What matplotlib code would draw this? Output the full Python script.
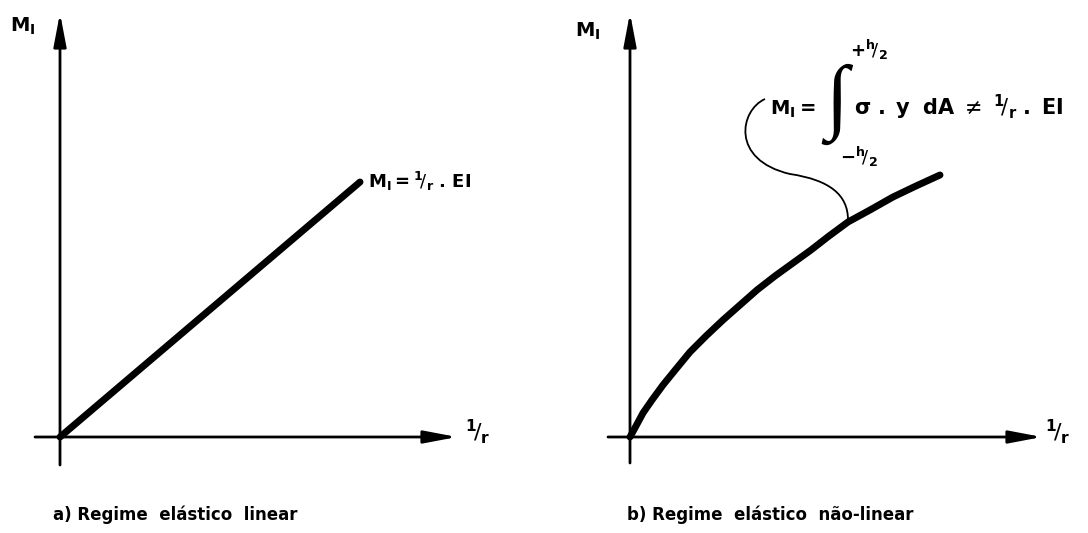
import matplotlib
matplotlib.use("Agg")
import matplotlib.pyplot as plt
from matplotlib.path import Path
from matplotlib.patches import PathPatch

plt.rcParams["mathtext.fontset"] = "dejavusans"
plt.rcParams["font.family"] = ["DejaVu Sans"]

# units: curvature 1/r (x) and moment M_I (y)
# a) linear elastic
lin_curv = [0.0, 3.00]
lin_moment = [0.0, 2.55]

# b) non-linear elastic
nl_curv = [0.00, 0.06, 0.13, 0.22, 0.33, 0.46, 0.60, 0.76, 0.93, 1.10,
           1.27, 1.45, 1.63, 1.81, 1.99, 2.18, 2.40, 2.63, 2.86, 3.10]
nl_moment = [0.00, 0.11, 0.24, 0.37, 0.52, 0.68, 0.85, 1.01, 1.17, 1.32,
             1.47, 1.61, 1.74, 1.87, 2.01, 2.15, 2.27, 2.40, 2.51, 2.62]

# leader line from the formula down to the curve (bezier control points)
leader_x = [1.35, 1.10, 1.00, 1.60, 2.00, 2.18, 2.18]
leader_y = [3.38, 3.27, 2.77, 2.63, 2.57, 2.42, 2.17]

# axis extents (tail, tip)
a_xaxis = (-0.25, 3.97)
a_yaxis = (-0.28, 4.24)
b_xaxis = (-0.22, 4.12)
b_yaxis = (-0.26, 4.24)

captions = ["a) Regime  elástico  linear", "b) Regime  elástico  não-linear"]

fig = plt.figure(figsize=(10.88, 5.33), dpi=100)
ax_a = fig.add_axes([0, 0, 1, 1])
ax_b = fig.add_axes([0, 0, 1, 1])
ax_a.set_xlim(-0.60, 10.28)
ax_b.set_xlim(-6.30, 4.58)
for ax in (ax_a, ax_b):
    ax.set_ylim(-0.96, 4.37)
    ax.axis("off")
    ax.patch.set_alpha(0)

arrow = dict(arrowstyle="-|>,head_length=2.0,head_width=0.38", lw=2.0,
             color="black", shrinkA=0, shrinkB=0, mutation_scale=10)


def draw_axes(ax, xext, yext):
    ax.annotate("", xy=(xext[1], 0), xytext=(xext[0], 0), arrowprops=arrow)
    ax.annotate("", xy=(0, yext[1]), xytext=(0, yext[0]), arrowprops=arrow)


draw_axes(ax_a, a_xaxis, a_yaxis)
draw_axes(ax_b, b_xaxis, b_yaxis)

mi = r"$\mathbf{M}_{\mathbf{I}}$"
frac = r"${}^{\mathbf{1}}\!/_{\mathbf{r}}$"

# panel a
ax_a.plot(lin_curv, lin_moment, color="black", lw=5, solid_capstyle="round")
ax_a.text(-0.50, 4.05, mi, fontsize=14, va="baseline", ha="left")
ax_a.text(4.05, 0.05, frac, fontsize=16, va="center", ha="left")
ax_a.text(3.08, 2.49,
          r"$\mathbf{M}_{\mathbf{I}}\mathbf{=}{}^{\mathbf{1}}\!/_{\mathbf{r}}\ \mathbf{.\,EI}$",
          fontsize=13, va="baseline", ha="left")
ax_a.text(-0.07, -0.78, captions[0], fontsize=12, fontweight="bold",
          va="center", ha="left")

# panel b
ax_b.plot(nl_curv, nl_moment, color="black", lw=5, solid_capstyle="round",
          solid_joinstyle="round")
codes = [Path.MOVETO] + [Path.CURVE4] * 6
leader = Path(list(zip(leader_x, leader_y)), codes)
ax_b.add_patch(PathPatch(leader, facecolor="none", edgecolor="black", lw=1.3))
ax_b.text(-0.55, 4.00, mi, fontsize=14, va="baseline", ha="left")
ax_b.text(4.15, 0.05, frac, fontsize=16, va="center", ha="left")
ax_b.text(1.40, 3.22, r"$\mathbf{M}_{\mathbf{I}}\mathbf{=}$",
          fontsize=14, va="baseline", ha="left")
ax_b.text(2.07, 3.33, "\u222b", fontsize=60, va="center", ha="center",
          family=["Liberation Serif", "DejaVu Sans"])
ax_b.text(2.20, 3.87, r"$\mathbf{+}{}^{\mathbf{h}}\!/_{\mathbf{2}}$",
          fontsize=13, va="center", ha="left")
ax_b.text(2.10, 2.80, r"$\mathbf{-}{}^{\mathbf{h}}\!/_{\mathbf{2}}$",
          fontsize=13, va="center", ha="left")
ax_b.text(2.24, 3.22,
          r"$\mathbf{\sigma\ .\ y\ \ dA}\ \neq\ {}^{\mathbf{1}}\!/_{\mathbf{r}}\ \mathbf{.\ EI}$",
          fontsize=15, va="baseline", ha="left")
ax_b.text(-0.03, -0.78, captions[1], fontsize=12, fontweight="bold",
          va="center", ha="left")

fig.savefig("out.png", dpi=100)
